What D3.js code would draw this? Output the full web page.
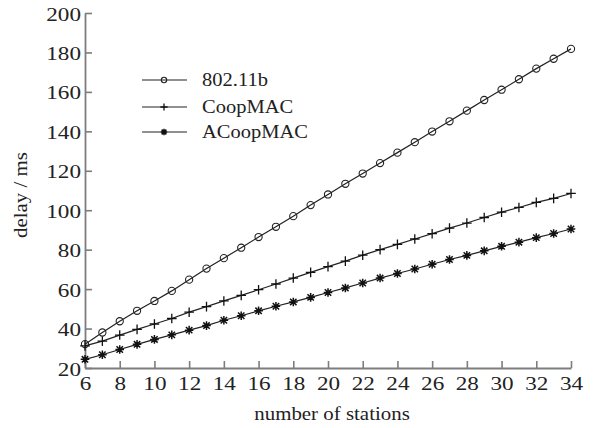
<!DOCTYPE html>
<html>
<head>
<meta charset="utf-8">
<script src="https://cdn.jsdelivr.net/npm/d3@7"></script>
<style>
body { margin: 0; background: #fff; }
svg text { font-family: "Liberation Serif", "Times New Roman", Times, "DejaVu Serif", serif; fill: #222; }
</style>
</head>
<body>
<svg id="chart" width="594" height="428"></svg>
<script>
var stations = [6, 7, 8, 9, 10, 11, 12, 13, 14, 15, 16, 17, 18, 19, 20, 21, 22, 23, 24, 25, 26, 27, 28, 29, 30, 31, 32, 33, 34];
var xTicks = [6, 8, 10, 12, 14, 16, 18, 20, 22, 24, 26, 28, 30, 32, 34];
var yTicks = [20, 40, 60, 80, 100, 120, 140, 160, 180, 200];

var seriesNames = ["802.11b", "CoopMAC", "ACoopMAC"];
var delay80211b = [32.1, 38.0, 43.7, 49.0, 54.0, 59.1, 64.8, 70.4, 75.7, 81.0, 86.4, 91.6, 97.0, 102.6, 108.0, 113.4, 118.6, 123.9, 129.2, 134.5, 139.9, 145.1, 150.5, 155.9, 161.1, 166.4, 171.8, 176.8, 181.8];
var delayCoopMAC = [31.2, 33.6, 36.7, 39.6, 42.3, 45.1, 48.3, 51.1, 54.0, 56.8, 59.7, 62.6, 65.6, 68.5, 71.4, 74.2, 77.2, 80.0, 82.7, 85.4, 88.1, 90.9, 93.5, 96.3, 99.0, 101.4, 104.0, 106.0, 108.5];
var delayACoopMAC = [24.4, 26.7, 29.4, 32.0, 34.5, 36.8, 39.2, 41.5, 44.2, 46.5, 49.0, 51.3, 53.5, 55.8, 58.3, 60.6, 63.1, 65.6, 67.9, 70.2, 72.6, 75.0, 77.1, 79.4, 81.7, 83.8, 86.1, 88.2, 90.5];
var seriesValues = [delay80211b, delayCoopMAC, delayACoopMAC];

var svg = d3.select("#chart");

var xs = d3.scaleLinear().domain([6, 34]).range([85, 571]);
var ys = d3.scaleLinear().domain([20, 200]).range([368, 13]);

var axisColor = "#7d7d7d";
var serif = "'Liberation Serif', 'Times New Roman', Times, 'DejaVu Serif', serif";

// marker shapes
var markers = [
  function(g, s) {
    g.append("circle").attr("r", 3.6 * s).attr("fill", "none")
      .attr("stroke", "#222").attr("stroke-width", 1.1);
  },
  function(g, s) {
    var r = 4.8 * s;
    g.append("path").attr("d", "M" + (-r) + ",0H" + r + "M0," + (-r) + "V" + r)
      .attr("stroke", "#111").attr("stroke-width", 1.3);
  },
  function(g, s) {
    var r = 4.3 * s, q = 3.2 * s;
    g.append("path")
      .attr("d", "M" + (-r) + ",0H" + r + "M0," + (-r) + "V" + r +
                 "M" + (-q) + "," + (-q) + "L" + q + "," + q +
                 "M" + (-q) + "," + q + "L" + q + "," + (-q))
      .attr("stroke", "#111").attr("stroke-width", 1.5);
  }
];

// axes
var xa = d3.axisBottom(xs).tickValues(xTicks).tickSizeInner(-7).tickSizeOuter(0).tickFormat(d3.format("d"));
var ya = d3.axisLeft(ys).tickValues(yTicks).tickSizeInner(-7).tickSizeOuter(0).tickFormat(d3.format("d"));

var gx = svg.append("g").attr("transform", "translate(0,368)").call(xa);
var gy = svg.append("g").attr("transform", "translate(85,0)").call(ya);

[gx, gy].forEach(function(g) {
  g.attr("font-family", null).attr("font-size", null);
  g.select(".domain").attr("stroke", axisColor).attr("stroke-width", 1.8);
  g.selectAll(".tick line").attr("stroke", axisColor).attr("stroke-width", 1.6);
  g.selectAll(".tick text").attr("fill", "#222")
    .style("font-family", serif).style("font-size", "19px");
});

gx.selectAll(".tick text")
  .attr("y", null).attr("dy", null)
  .attr("transform", "translate(0,22) scale(1.22,1)");
gy.selectAll(".tick text")
  .attr("x", null).attr("dy", null)
  .attr("transform", "translate(-4,7) scale(1.22,1)");

// axis titles
svg.append("text")
  .attr("text-anchor", "middle").style("font-family", serif).style("font-size", "19px")
  .attr("transform", "translate(332,420) scale(1.1,1)")
  .text("number of stations");

svg.append("text")
  .attr("text-anchor", "middle").style("font-family", serif).style("font-size", "19px")
  .attr("transform", "translate(27,195) rotate(-90) scale(1.1,1)")
  .text("delay / ms");

// series
var line = d3.line()
  .x(function(d, i) { return xs(stations[i]); })
  .y(function(d) { return ys(d); });

seriesValues.forEach(function(vals, k) {
  svg.append("path").datum(vals)
    .attr("d", line)
    .attr("fill", "none").attr("stroke", "#222").attr("stroke-width", 1.2);
  svg.append("g").selectAll("g")
    .data(vals).enter().append("g")
    .attr("transform", function(d, i) { return "translate(" + xs(stations[i]) + "," + ys(d) + ")"; })
    .each(function() { markers[k](d3.select(this), 1); });
});

// legend
var legend = svg.append("g");
seriesNames.forEach(function(name, k) {
  var y = [80, 107, 132][k];
  var row = legend.append("g").attr("transform", "translate(0," + y + ")");
  row.append("line").attr("x1", 142).attr("x2", 187).attr("y1", 0).attr("y2", 0)
    .attr("stroke", "#222").attr("stroke-width", 1.2);
  markers[k](row.append("g").attr("transform", "translate(164,0)"), 0.75);
  row.append("text").style("font-family", serif).style("font-size", "19px")
    .attr("transform", "translate(202,6) scale(1.08,1)")
    .text(name);
});
</script>
</body>
</html>
